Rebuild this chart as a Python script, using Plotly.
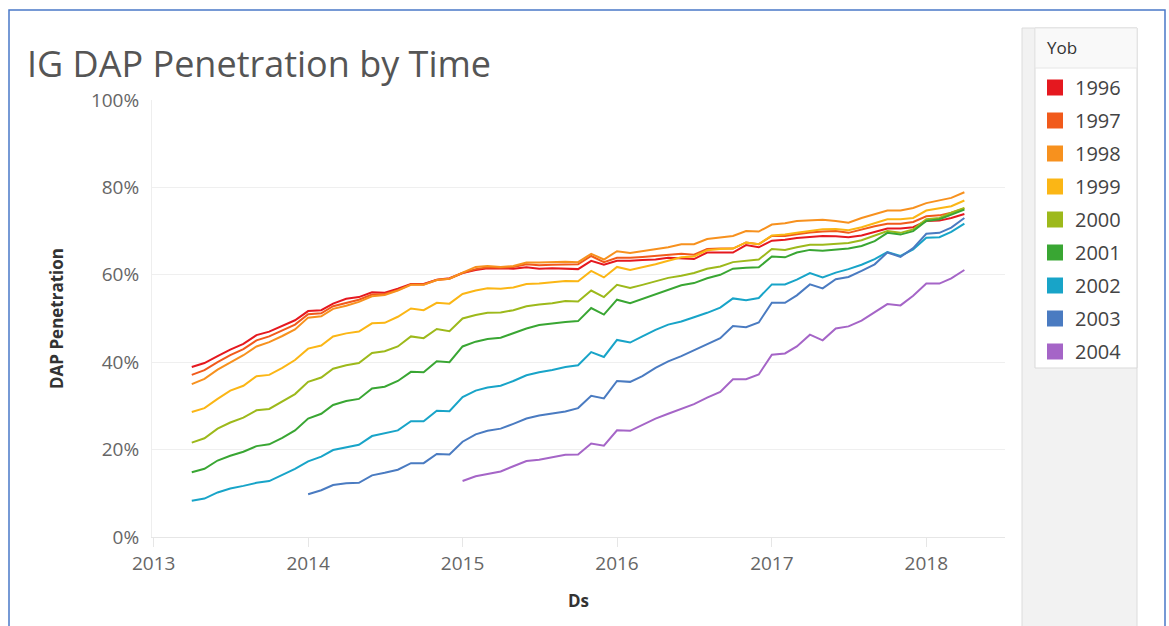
import pandas as pd
import plotly.graph_objects as go

# ---------------- data ----------------
dates = pd.date_range("2013-04-01", periods=61, freq="MS")
N = None

yob = ["1996", "1997", "1998", "1999", "2000", "2001", "2002", "2003", "2004"]
colors = ["#e5181f", "#f15a1b", "#f7911e", "#fbb615", "#9db91b", "#39a633",
          "#18a4c8", "#4a7bc1", "#a565c7"]

s1996 = [38.9, 39.8, 41.4, 42.9, 44.2, 46.2, 47.0, 48.3, 49.6, 51.7, 51.9, 53.4, 54.5,
         54.9, 56.0, 55.9, 56.8, 57.9, 57.9, 58.9, 59.2, 60.4, 61.1, 61.5, 61.4,
         61.4, 61.7, 61.4, 61.5, 61.4, 61.3, 63.2, 62.3, 63.2, 63.2, 63.4, 63.5, 63.9,
         63.8, 63.6, 65.1, 65.1, 65.1, 66.8, 66.3, 67.8, 68.0, 68.4, 68.7,
         68.9, 68.8, 68.6, 69.0, 69.8, 70.6, 70.6, 70.9, 72.3, 72.4, 73.0, 73.9]
s1997 = [37.1, 38.2, 40.0, 41.6, 43.0, 45.0, 45.9, 47.2, 48.6, 51.0, 51.2, 52.8, 53.6,
         54.3, 55.5, 55.6, 56.5, 57.8, 57.8, 58.8, 59.1, 60.4, 61.3, 61.7, 61.6,
         61.8, 62.4, 62.2, 62.3, 62.4, 62.4, 64.3, 62.9, 63.9, 63.9, 64.1, 64.3, 64.6,
         64.8, 64.6, 65.9, 66.0, 66.0, 67.4, 67.0, 68.9, 68.9, 69.3, 69.7,
         69.9, 70.0, 69.6, 70.4, 71.1, 71.7, 71.7, 72.1, 73.4, 73.6, 74.2, 75.2]
s1998 = [35.0, 36.2, 38.3, 40.0, 41.6, 43.6, 44.6, 46.0, 47.5, 50.2, 50.5, 52.2, 52.9,
         53.8, 55.1, 55.4, 56.4, 57.7, 57.7, 58.8, 59.1, 60.5, 61.8, 62.0, 61.8,
         62.0, 62.8, 62.8, 62.9, 63.0, 62.9, 64.8, 63.5, 65.4, 65.0, 65.4, 65.8, 66.3,
         67.0, 67.0, 68.2, 68.5, 68.9, 70.0, 69.9, 71.5, 71.8, 72.3, 72.5,
         72.6, 72.3, 71.9, 73.0, 73.8, 74.7, 74.7, 75.3, 76.4, 77.0, 77.6, 78.9]
s1999 = [28.6, 29.5, 31.6, 33.5, 34.6, 36.8, 37.1, 38.7, 40.5, 43.1, 43.8, 45.9, 46.6,
         47.0, 48.9, 49.0, 50.4, 52.3, 51.9, 53.6, 53.4, 55.6, 56.4, 56.9, 56.8,
         57.1, 57.9, 58.0, 58.3, 58.6, 58.5, 60.9, 59.4, 61.8, 61.1, 61.7, 62.4, 63.2,
         64.0, 64.2, 65.6, 65.9, 66.0, 67.4, 67.0, 69.0, 69.2, 69.6, 70.0,
         70.4, 70.5, 70.2, 70.9, 71.9, 72.7, 72.7, 73.0, 74.7, 75.2, 75.7, 77.0]
s2000 = [21.6, 22.6, 24.8, 26.2, 27.3, 29.0, 29.3, 31.0, 32.7, 35.5, 36.5, 38.5, 39.3,
         39.8, 42.1, 42.5, 43.6, 45.9, 45.5, 47.6, 47.1, 50.0, 50.8, 51.3, 51.4,
         51.9, 52.8, 53.2, 53.5, 54.0, 53.9, 56.4, 54.9, 57.7, 57.0, 57.7, 58.6, 59.3,
         59.8, 60.4, 61.4, 61.9, 62.9, 63.2, 63.5, 65.9, 65.7, 66.3, 66.9,
         66.9, 67.1, 67.3, 67.9, 68.9, 70.0, 69.6, 70.4, 72.7, 73.0, 74.2, 75.3]
s2001 = [14.8, 15.6, 17.5, 18.6, 19.5, 20.8, 21.2, 22.7, 24.4, 27.1, 28.2, 30.2, 31.1,
         31.6, 34.0, 34.4, 35.7, 37.8, 37.7, 40.2, 40.0, 43.6, 44.7, 45.3, 45.6,
         46.6, 47.7, 48.5, 48.9, 49.2, 49.4, 52.4, 50.9, 54.3, 53.5, 54.5, 55.6, 56.6,
         57.6, 58.1, 59.2, 60.0, 61.4, 61.6, 61.7, 64.2, 64.0, 65.1, 65.7,
         65.5, 65.8, 66.0, 66.6, 67.7, 69.6, 69.2, 70.0, 72.3, 72.7, 73.8, 74.9]
s2002 = [8.3, 8.8, 10.2, 11.1, 11.7, 12.4, 12.8, 14.3, 15.6, 17.3, 18.4, 19.9, 20.5,
         21.1, 23.1, 23.7, 24.4, 26.5, 26.5, 28.9, 28.8, 32.0, 33.5, 34.2, 34.6,
         35.7, 37.0, 37.7, 38.2, 38.9, 39.3, 42.3, 41.2, 45.1, 44.5, 45.9, 47.4, 48.6,
         49.3, 50.3, 51.3, 52.5, 54.6, 54.2, 54.7, 57.8, 57.8, 58.9, 60.4,
         59.4, 60.5, 61.3, 62.3, 63.6, 65.2, 64.3, 65.8, 68.5, 68.6, 69.8, 71.7]
s2003 = [N, N, N, N, N, N, N, N, N, 9.8, 10.7, 11.9, 12.3,
         12.4, 14.1, 14.7, 15.4, 16.9, 16.9, 19.0, 18.9, 21.8, 23.5, 24.3, 24.8,
         25.9, 27.1, 27.8, 28.2, 28.7, 29.5, 32.3, 31.7, 35.7, 35.5, 36.8, 38.7, 40.2,
         41.4, 42.7, 44.0, 45.5, 48.3, 48.0, 49.1, 53.6, 53.6, 55.3, 57.8,
         56.9, 59.0, 59.5, 60.9, 62.4, 65.1, 64.1, 66.1, 69.4, 69.6, 70.8, 73.0]
s2004 = [N, N, N, N, N, N, N, N, N, N, N, N, N,
         N, N, N, N, N, N, N, N, 12.8, 13.9, 14.4, 15.0,
         16.2, 17.4, 17.7, 18.2, 18.8, 18.9, 21.4, 20.9, 24.4, 24.3, 25.6, 27.1, 28.2,
         29.3, 30.4, 31.9, 33.2, 36.1, 36.1, 37.2, 41.7, 42.0, 43.6, 46.3,
         45.0, 47.7, 48.2, 49.5, 51.4, 53.3, 53.0, 55.2, 58.0, 58.0, 59.2, 61.1]

series = [s1996, s1997, s1998, s1999, s2000, s2001, s2002, s2003, s2004]
y_ticks = [0, 20, 40, 60, 80, 100]

# ---------------- layout geometry (pixels) ----------------
W, H = 1169, 626
L, R, T, B = 152, 1005, 100, 537


def px(x):
    return (x - L) / (R - L)


def py(y):
    return (B - y) / (B - T)


FONT = "Open Sans"

fig = go.Figure()

for name, col, vals in zip(yob, colors, series):
    fig.add_trace(go.Scatter(
        x=dates, y=vals, mode="lines", name=name,
        line=dict(color=col, width=2),
        showlegend=False, legendgroup=name,
        hovertemplate="%{x|%b %Y}<br>%{y:.1f}%<extra>" + name + "</extra>",
    ))

# legend entries (square swatches)
for name, col in zip(yob, colors):
    fig.add_trace(go.Scatter(
        x=[None], y=[None], mode="markers", name=name, legendgroup=name,
        marker=dict(symbol="square", size=22, color=col),
        showlegend=True,
    ))

shapes = [
    # outer blue frame
    dict(type="rect", xref="paper", yref="paper",
         x0=px(9), x1=px(1165), y0=py(640), y1=py(10),
         line=dict(color="#4a78c8", width=1.5), fillcolor="rgba(0,0,0,0)", layer="below"),
    # grey legend panel
    dict(type="rect", xref="paper", yref="paper",
         x0=px(1022), x1=px(1137), y0=py(630), y1=py(28),
         line=dict(color="#dcdcdc", width=1), fillcolor="#f2f2f2", layer="below"),
    # white legend box
    dict(type="rect", xref="paper", yref="paper",
         x0=px(1035), x1=px(1137), y0=py(368), y1=py(28),
         line=dict(color="#d9d9d9", width=1), fillcolor="#ffffff", layer="below"),
    # legend header
    dict(type="rect", xref="paper", yref="paper",
         x0=px(1035), x1=px(1137), y0=py(68), y1=py(28),
         line=dict(color="#e6e6e6", width=1), fillcolor="#f9f9f9", layer="below"),
]

annotations = [
    dict(text="Yob", xref="paper", yref="paper", x=px(1045), y=py(47),
         xanchor="left", yanchor="middle", showarrow=False,
         font=dict(family=FONT, size=17, color="#333333")),
]

fig.update_layout(
    width=W, height=H,
    margin=dict(l=L, r=W - R, t=T, b=H - B, pad=0),
    paper_bgcolor="white", plot_bgcolor="white",
    font=dict(family=FONT, color="#666666"),
    title=dict(text="IG DAP Penetration by Time", xref="container", yref="container",
               x=27 / W, xanchor="left", y=1 - 64 / H, yanchor="middle",
               font=dict(family=FONT, size=36, color="#555555")),
    shapes=shapes,
    annotations=annotations,
    showlegend=True,
    legend=dict(x=px(1035), y=py(68), xanchor="left", yanchor="top",
                bgcolor="rgba(0,0,0,0)", borderwidth=0, maxheight=400,
                font=dict(family=FONT, size=20, color="#444444"),
                tracegroupgap=4, itemclick=False, itemdoubleclick=False),
    xaxis=dict(
        type="date", range=["2012-12-28", "2018-07-06"], automargin=False,
        tickformat="%Y", dtick="M12", tick0="2013-01-01",
        showgrid=False, zeroline=False,
        showline=True, linecolor="#e6e6e6", linewidth=1,
        ticks="outside", ticklen=9, tickcolor="#e6e6e6",
        tickfont=dict(family=FONT, size=19, color="#666666"),
        title=dict(text="<b>Ds</b>", standoff=20,
                   font=dict(family=FONT, size=17, color="#333333")),
    ),
    yaxis=dict(
        range=[0, 100], tickvals=y_ticks, ticktext=[f"{v}%" for v in y_ticks],
        automargin=False,
        showgrid=True, gridcolor="#efefef", gridwidth=1, zeroline=False,
        showline=True, linecolor="#eeeeee",
        ticks="", ticklabelstandoff=8,
        tickfont=dict(family=FONT, size=19, color="#666666"),
        title=dict(text="<b>DAP Penetration</b>", standoff=22,
                   font=dict(family=FONT, size=17, color="#333333")),
    ),
)

fig.write_html("out.html", config={"displayModeBar": False},
               post_script="document.body.style.margin='0';document.body.style.overflow='hidden';")
